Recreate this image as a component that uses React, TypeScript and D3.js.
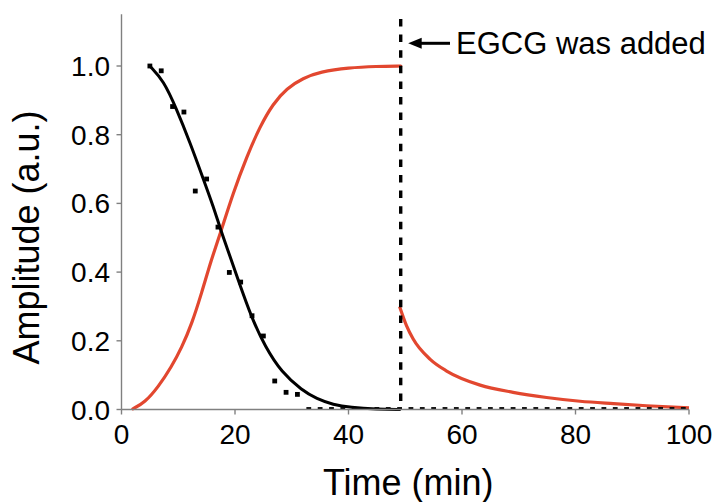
import React from "react";
import * as d3 from "d3";

// Measured data points (black squares)
const pointTime = [5, 7, 9, 11, 13, 15, 17, 19, 21, 23, 25, 27, 29, 31, 33, 35, 37, 39, 41, 43, 45, 47, 49, 51, 53, 55, 57, 59, 61, 63, 65, 67, 69, 71, 73, 75, 77, 79, 81, 83, 85, 87, 89, 91, 93, 95, 97, 99];
const pointAmp = [1.0, 0.986, 0.882, 0.866, 0.636, 0.671, 0.531, 0.399, 0.371, 0.273, 0.214, 0.083, 0.05, 0.044, 0, 0, 0, 0, 0, 0, 0, 0, 0, 0, 0, 0, 0, 0, 0, 0, 0, 0, 0, 0, 0, 0, 0, 0, 0, 0, 0, 0, 0, 0, 0, 0, 0, 0];

// Black fit curve
const fitTime = [5, 5, 7.4, 9.7, 12.1, 14.4, 16.2, 17.3, 18.4, 20.6, 22.9, 25.3, 28.2, 31.8, 34.4, 37.3, 40.3, 45, 49.2, 49.2];
const fitAmp = [1.0, 1.0, 0.958, 0.875, 0.776, 0.672, 0.59, 0.532, 0.48, 0.375, 0.268, 0.183, 0.108, 0.056, 0.031, 0.014, 0.006, 0.001, 0, 0];

// Red curve, rise before EGCG
const riseTime = [2, 2, 4.1, 6.5, 8.8, 10.6, 12.4, 14.1, 15.9, 17.4, 19.7, 22.1, 24.4, 26.7, 29.1, 32, 35, 40, 45, 49.2, 49.2];
const riseAmp = [0.002, 0.002, 0.02, 0.066, 0.124, 0.18, 0.25, 0.338, 0.44, 0.512, 0.632, 0.737, 0.824, 0.89, 0.935, 0.965, 0.983, 0.995, 0.999, 1.0, 1.0];

// Red curve, decay after EGCG
const decayTime = [49.0, 50.2, 51.4, 54.4, 57.3, 63.2, 69, 74.9, 80.8, 86.7, 92.5, 100];
const decayAmp = [0.3, 0.245, 0.205, 0.146, 0.112, 0.071, 0.05, 0.035, 0.024, 0.017, 0.011, 0.005];

const egcgTime = 49.2;
const xTicks = [0, 20, 40, 60, 80, 100];
const yTicks = [0, 0.2, 0.4, 0.6, 0.8, 1.0];
const annotation = "EGCG was added";
const xTitle = "Time (min)";
const yTitle = "Amplitude (a.u.)";

const W = 717;
const H = 502;
const FONT = "'Liberation Sans', Arial, Helvetica, sans-serif";
const RED = "#E2472F";
const AXIS = "#808080";

export default function App() {
  const x = d3.scaleLinear().domain([0, 100]).range([121.5, 689]);
  const y = d3.scaleLinear().domain([0, 1]).range([409.5, 66]);
  const yTop = y(1.151);

  const smooth = d3
    .line<[number, number]>()
    .x((d) => x(d[0]))
    .y((d) => y(d[1]))
    .curve(d3.curveBasis);
  const mono = d3
    .line<[number, number]>()
    .x((d) => x(d[0]))
    .y((d) => y(d[1]))
    .curve(d3.curveMonotoneX);

  const fitPath = smooth(fitTime.map((t, i) => [t, fitAmp[i]]))!;
  const risePath = smooth(riseTime.map((t, i) => [t, riseAmp[i]]))!;
  const decayPath = mono(decayTime.map((t, i) => [t, decayAmp[i]]))!;
  const fmt = d3.format(".1f");

  const ex = x(egcgTime);
  const ay = 43.3;

  return (
    <svg
      width={W}
      height={H}
      style={{ position: "absolute", left: 0, top: 0, background: "#fff" }}
      fontFamily={FONT}
    >
      <defs>
        <clipPath id="plot">
          <rect x={x(0)} y={0} width={x(100) - x(0) + 5} height={y(0) - 0.3} />
        </clipPath>
      </defs>

      {/* red curves */}
      <path d={risePath} fill="none" stroke={RED} strokeWidth={3.2} strokeLinecap="round" />
      <path d={decayPath} fill="none" stroke={RED} strokeWidth={3.2} strokeLinecap="butt" />

      {/* black fit */}
      <path d={fitPath} fill="none" stroke="#000" strokeWidth={3} />

      {/* points */}
      <g clipPath="url(#plot)">
        {pointTime.map((t, i) => (
          <rect key={i} x={x(t) - 2.4} y={y(pointAmp[i]) - 2.4} width={4.8} height={4.8} fill="#000" />
        ))}
      </g>

      {/* dashed line */}
      <line x1={ex} x2={ex} y1={19} y2={y(0)} stroke="#000" strokeWidth={3.4} strokeDasharray="7.5 8.1" />

      {/* axes */}
      <line x1={x(0)} x2={x(100)} y1={y(0)} y2={y(0)} stroke={AXIS} strokeWidth={1.4} />
      <line x1={x(0)} x2={x(0)} y1={yTop} y2={y(0)} stroke={AXIS} strokeWidth={1.4} />
      {xTicks.map((t) => (
        <g key={t}>
          <line x1={x(t)} x2={x(t)} y1={y(0)} y2={y(0) + 5} stroke={AXIS} strokeWidth={1.4} />
          <text x={x(t)} y={444} fontSize={28} textAnchor="middle" fill="#000">
            {t}
          </text>
        </g>
      ))}
      {yTicks.map((v) => (
        <g key={v}>
          <line x1={x(0) - 5} x2={x(0)} y1={y(v)} y2={y(v)} stroke={AXIS} strokeWidth={1.4} />
          <text x={110} y={y(v) + 10} fontSize={28} textAnchor="end" fill="#000">
            {fmt(v)}
          </text>
        </g>
      ))}

      {/* titles */}
      <text x={(x(0) + x(100)) / 2 + 3} y={495} fontSize={36} textAnchor="middle" fill="#000">
        {xTitle}
      </text>
      <text
        transform={`translate(38.5, 237.5) rotate(-90)`}
        fontSize={36}
        textAnchor="middle"
        fill="#000"
      >
        {yTitle}
      </text>

      {/* annotation */}
      <line x1={ex + 18} x2={450} y1={ay} y2={ay} stroke="#000" strokeWidth={3} />
      <path d={`M${ex + 7.5},${ay} L${ex + 21},${ay - 5.5} L${ex + 21},${ay + 5.5} Z`} fill="#000" />
      <text x={456} y={54} fontSize={31} fill="#000">
        {annotation}
      </text>
    </svg>
  );
}
